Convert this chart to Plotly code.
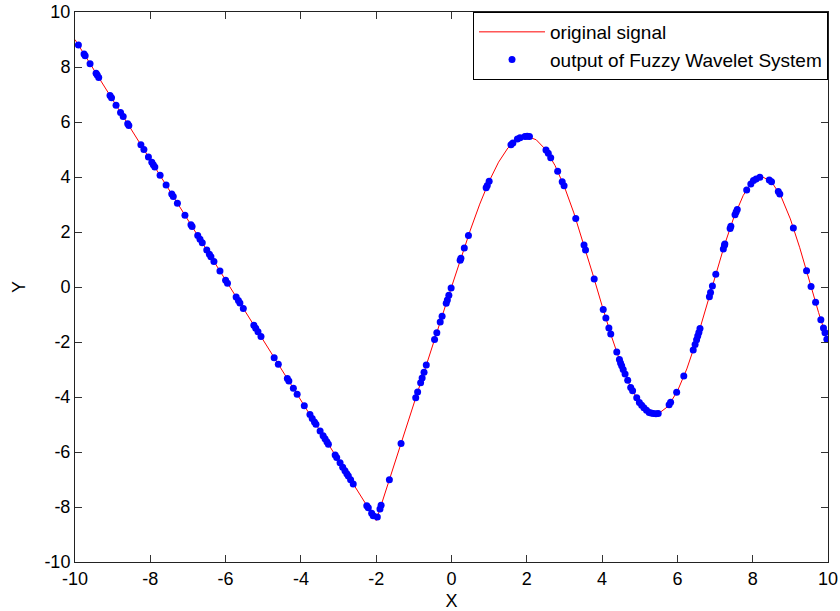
import plotly.graph_objects as go

line_x = [-10, -2, 0,
          0.25, 0.5, 0.75, 1.0, 1.25, 1.5, 1.75, 2.0, 2.25, 2.5, 2.75, 3.0,
          3.25, 3.5, 3.75, 4.0, 4.25, 4.5, 4.75, 5.0, 5.25, 5.5, 5.75, 6.0,
          6.25, 6.5, 6.75, 7.0, 7.25, 7.5, 7.75, 8.0, 8.25, 8.5, 8.75, 9.0,
          9.25, 9.5, 9.75, 10.0]
line_y = [8.996, -8.492, 0.0,
          1.054, 2.070, 3.013, 3.847, 4.539, 5.059, 5.379, 5.481, 5.354, 4.997, 4.418, 3.640,
          2.693, 1.622, 0.476, -0.685, -1.798, -2.798, -3.626, -4.228, -4.562, -4.602, -4.341, -3.789,
          -2.980, -1.968, -0.823, 0.371, 1.521, 2.537, 3.334, 3.841, 4.012, 3.828, 3.301, 2.476,
          1.427, 0.254, -0.929, -2.001]

# Output of Fuzzy Wavelet System (sample points)
pts_x = [-9.91, -9.76, -9.73, -9.60, -9.44, -9.41, -9.37, -9.07, -9.03, -8.91,
         -8.79, -8.72, -8.60, -8.57, -8.25, -8.17, -8.05, -7.96, -7.92, -7.88,
         -7.74, -7.58, -7.43, -7.39, -7.28, -7.08, -6.92, -6.89, -6.74, -6.68,
         -6.62, -6.50, -6.43, -6.39, -6.31, -6.15, -6.00, -5.95, -5.72, -5.66,
         -5.62, -5.53, -5.25, -5.20, -5.14, -5.06, -4.71, -4.60, -4.36, -4.32,
         -4.20, -4.10, -3.91, -3.76, -3.70, -3.64, -3.60, -3.49, -3.41, -3.36,
         -3.31, -3.27, -3.09, -3.05, -2.96, -2.89, -2.83, -2.78, -2.74, -2.68,
         -2.61, -2.25, -2.21, -2.12, -2.08, -1.97, -1.90, -1.87, -1.65, -1.34,
         -0.95, -0.90, -0.82, -0.78, -0.73, -0.67, -0.45, -0.39, -0.30, -0.25,
         -0.14, -0.11, -0.07, -0.01, 0.23, 0.25, 0.34, 0.45, 0.92, 0.95,
         1.00, 1.58, 1.63, 1.75, 1.82, 1.95, 2.01, 2.07, 2.51, 2.57,
         2.635, 2.82, 2.94, 2.99, 3.30, 3.52, 3.56, 3.79, 4.03, 4.10,
         4.18, 4.23, 4.39, 4.46, 4.49, 4.52, 4.56, 4.61, 4.68, 4.76,
         4.81, 4.92, 4.99, 5.05, 5.11, 5.18, 5.25, 5.30, 5.36, 5.43,
         5.49, 5.78, 5.82, 5.98, 6.17, 6.42, 6.47, 6.51, 6.54, 6.57,
         6.60, 6.85, 6.88, 6.93, 7.02, 7.22, 7.25, 7.26, 7.40, 7.42,
         7.53, 7.56, 7.59, 7.84, 7.95, 8.02, 8.09, 8.19, 8.44, 8.50,
         8.68, 8.72, 9.08, 9.43, 9.55, 9.67, 9.81, 9.88, 9.92, 9.97]
pts_y = [8.80, 8.47, 8.41, 8.12, 7.77, 7.71, 7.62, 6.96, 6.88, 6.61,
         6.35, 6.20, 5.94, 5.87, 5.17, 5.00, 4.73, 4.54, 4.45, 4.36,
         4.06, 3.71, 3.38, 3.29, 3.05, 2.61, 2.26, 2.20, 1.87, 1.74,
         1.61, 1.35, 1.19, 1.10, 0.93, 0.58, 0.25, 0.14, -0.36, -0.49,
         -0.58, -0.78, -1.39, -1.50, -1.63, -1.80, -2.57, -2.81, -3.33, -3.42,
         -3.68, -3.90, -4.32, -4.64, -4.78, -4.91, -4.99, -5.24, -5.41, -5.52,
         -5.63, -5.72, -6.11, -6.20, -6.39, -6.55, -6.68, -6.79, -6.87, -7.01,
         -7.16, -7.95, -8.03, -8.23, -8.32, -8.36, -8.07, -7.94, -7.01, -5.69,
         -4.03, -3.82, -3.48, -3.31, -3.10, -2.84, -1.91, -1.66, -1.27, -1.06,
         -0.59, -0.47, -0.30, -0.04, 0.97, 1.05, 1.42, 1.87, 3.61, 3.69,
         3.85, 5.17, 5.24, 5.38, 5.43, 5.47, 5.48, 5.47, 4.98, 4.86,
         4.70, 4.21, 3.83, 3.68, 2.49, 1.53, 1.35, 0.29, -0.82, -1.13,
         -1.49, -1.71, -2.36, -2.64, -2.76, -2.86, -3.00, -3.16, -3.39, -3.65,
         -3.77, -4.03, -4.20, -4.30, -4.39, -4.48, -4.56, -4.58, -4.60, -4.61,
         -4.60, -4.28, -4.19, -3.83, -3.24, -2.29, -2.09, -1.92, -1.78, -1.65,
         -1.51, -0.35, -0.20, 0.04, 0.46, 1.38, 1.52, 1.56, 2.13, 2.21,
         2.63, 2.73, 2.82, 3.53, 3.75, 3.87, 3.93, 3.99, 3.89, 3.83,
         3.47, 3.38, 2.15, 0.59, 0.02, -0.55, -1.19, -1.49, -1.66, -1.90]

tick_vals = [-10, -8, -6, -4, -2, 0, 2, 4, 6, 8, 10]

FONT = "Liberation Sans, Arial, Helvetica, sans-serif"

fig = go.Figure()
fig.add_trace(go.Scatter(x=line_x, y=line_y, mode="lines", name="original signal",
                         line=dict(color="#FF0000", width=1)))
fig.add_trace(go.Scatter(x=pts_x, y=pts_y, mode="markers",
                         name="output of Fuzzy Wavelet System",
                         marker=dict(color="#0000FF", size=7, line=dict(width=0))))

axis_common = dict(
    range=[-10, 10], tickvals=tick_vals, ticktext=[str(v) for v in tick_vals],
    ticks="inside", ticklen=7, tickwidth=1, tickcolor="#333333",
    showline=True, linecolor="#222222", linewidth=1, mirror="ticks",
    showgrid=False, zeroline=False, automargin=False,
    tickfont=dict(family=FONT, size=18, color="black"),
)

fig.update_layout(
    width=840, height=611,
    margin=dict(l=75, r=12, t=12, b=49),
    paper_bgcolor="white", plot_bgcolor="white",
    font=dict(family=FONT, size=18, color="black"),
    xaxis=dict(**axis_common, title=dict(text="X", font=dict(family=FONT, size=18), standoff=6)),
    yaxis=dict(**axis_common, title=dict(text="Y", font=dict(family=FONT, size=18), standoff=14)),
    legend=dict(x=1, y=1, xanchor="right", yanchor="top",
                bordercolor="black", borderwidth=1, bgcolor="white",
                font=dict(family=FONT, size=19, color="black"),
                itemwidth=66),
    showlegend=True,
)

fig.write_html("out.html", config={"displayModeBar": False},
               post_script="document.body.style.margin='0';")
